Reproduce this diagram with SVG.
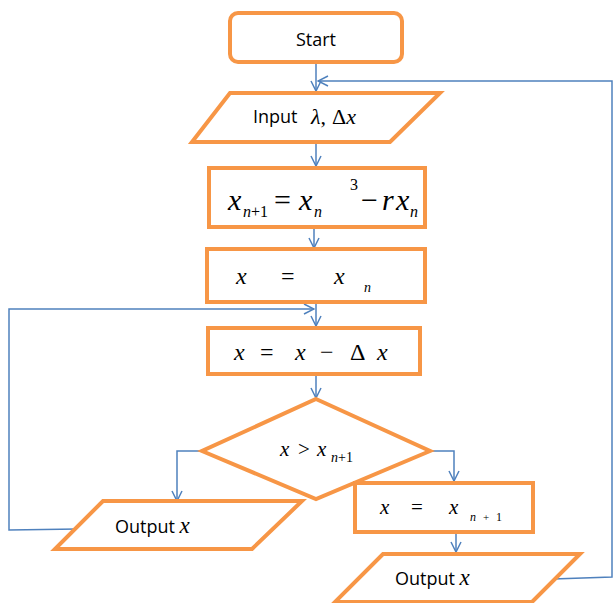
<svg xmlns="http://www.w3.org/2000/svg" width="614" height="603" viewBox="0 0 614 603">
<defs>
<style>
.node{fill:#fff;stroke:#F79646;stroke-width:4;stroke-linejoin:miter}
.conn{fill:none;stroke:#4F81BD;stroke-width:1.5}
.sans{font-family:"Open Sans","Liberation Sans",sans-serif;fill:#000}
.m{font-family:"Liberation Serif",serif;font-style:italic;fill:#000}
.u{font-style:normal}
</style>
<marker id="ah" viewBox="0 0 12 12" refX="11" refY="6" markerWidth="12" markerHeight="12" markerUnits="userSpaceOnUse" orient="auto">
<path d="M1,1 L11,6 L1,11" fill="none" stroke="#4F81BD" stroke-width="1.5"/>
</marker>
</defs>
<rect width="614" height="603" fill="#fff"/>
<g id="connectors">
<line class="conn" x1="316" y1="63" x2="316" y2="91" marker-end="url(#ah)"/>
<polyline class="conn" points="553,579 612,577 612,81 318,81" marker-end="url(#ah)"/>
<line class="conn" x1="316" y1="143" x2="316" y2="166" marker-end="url(#ah)"/>
<line class="conn" x1="314" y1="228" x2="314" y2="248" marker-end="url(#ah)"/>
<polyline class="conn" points="78,529 9,530 9,309 314,309" marker-end="url(#ah)"/>
<line class="conn" x1="316" y1="303" x2="316" y2="326" marker-end="url(#ah)"/>
<line class="conn" x1="316" y1="375" x2="316" y2="398" marker-end="url(#ah)"/>
<polyline class="conn" points="202,451 177,451 177,501" marker-end="url(#ah)"/>
<polyline class="conn" points="430,451 454,451 454,481" marker-end="url(#ah)"/>
<line class="conn" x1="456" y1="533" x2="456" y2="552" marker-end="url(#ah)"/>
</g>
<g id="start">
<rect class="node" x="230" y="13" width="172" height="49" rx="8"/>
<text class="sans" x="316" y="46" font-size="18" text-anchor="middle">Start</text>
</g>
<g id="input">
<polygon class="node" points="230,93 440,93 390,142 192,142"/>
<text class="sans" x="253" y="123" font-size="18">Input</text>
<text class="m" x="311" y="124" font-size="22">λ<tspan class="u">,</tspan><tspan class="u" x="332">Δ</tspan>x</text>
</g>
<g id="compute">
<rect class="node" x="209" y="168" width="216" height="59"/>
<text class="m" font-size="30"><tspan x="228" y="210">x</tspan><tspan x="243" y="217" font-size="16">n</tspan><tspan class="u" font-size="16" y="217">+1</tspan><tspan class="u" x="274" y="210">=</tspan><tspan x="299" y="210">x</tspan><tspan x="314" y="217" font-size="16">n</tspan><tspan class="u" x="350" y="190" font-size="16">3</tspan><tspan class="u" x="361" y="210">−</tspan><tspan x="382" y="210">r</tspan><tspan x="396" y="210">x</tspan><tspan x="410" y="217" font-size="16">n</tspan></text>
</g>
<g id="assign-xn">
<rect class="node" x="207" y="249" width="218" height="53"/>
<text class="m" font-size="24"><tspan x="236" y="284">x</tspan><tspan class="u" x="281" y="284">=</tspan><tspan x="334" y="284">x</tspan><tspan x="364" y="292" font-size="14">n</tspan></text>
</g>
<g id="decrement">
<rect class="node" x="208" y="328" width="212" height="46"/>
<text class="m" font-size="24"><tspan x="234" y="360">x</tspan><tspan class="u" x="260" y="360">=</tspan><tspan x="295" y="360">x</tspan><tspan class="u" x="320" y="360">−</tspan><tspan class="u" x="350" y="360">Δ</tspan><tspan x="377" y="360">x</tspan></text>
</g>
<g id="decision">
<polygon class="node" points="316,399 430,451 316,499 202,451"/>
<text class="m" font-size="21"><tspan x="280" y="456">x</tspan><tspan class="u" x="298" y="456">&gt;</tspan><tspan x="317" y="456">x</tspan><tspan x="331" y="462" font-size="14">n</tspan><tspan class="u" font-size="14" y="462">+1</tspan></text>
</g>
<g id="output-left">
<polygon class="node" points="103,501 302,501 252,549 55,549"/>
<text class="sans" x="115" y="533" font-size="18">Output <tspan class="m" font-size="23">x</tspan></text>
</g>
<g id="assign-xn1">
<rect class="node" x="355" y="483" width="178" height="49"/>
<text class="m" font-size="21"><tspan x="380" y="514">x</tspan><tspan class="u" x="411" y="514">=</tspan><tspan x="449" y="514">x</tspan><tspan x="470" y="521" font-size="12">n</tspan><tspan class="u" x="483" y="521" font-size="11">+</tspan><tspan class="u" x="496" y="521" font-size="12">1</tspan></text>
</g>
<g id="output-right">
<polygon class="node" points="383,554 580,554 532,602 335,602"/>
<text class="sans" x="395" y="585" font-size="18">Output <tspan class="m" font-size="23">x</tspan></text>
</g>
</svg>
